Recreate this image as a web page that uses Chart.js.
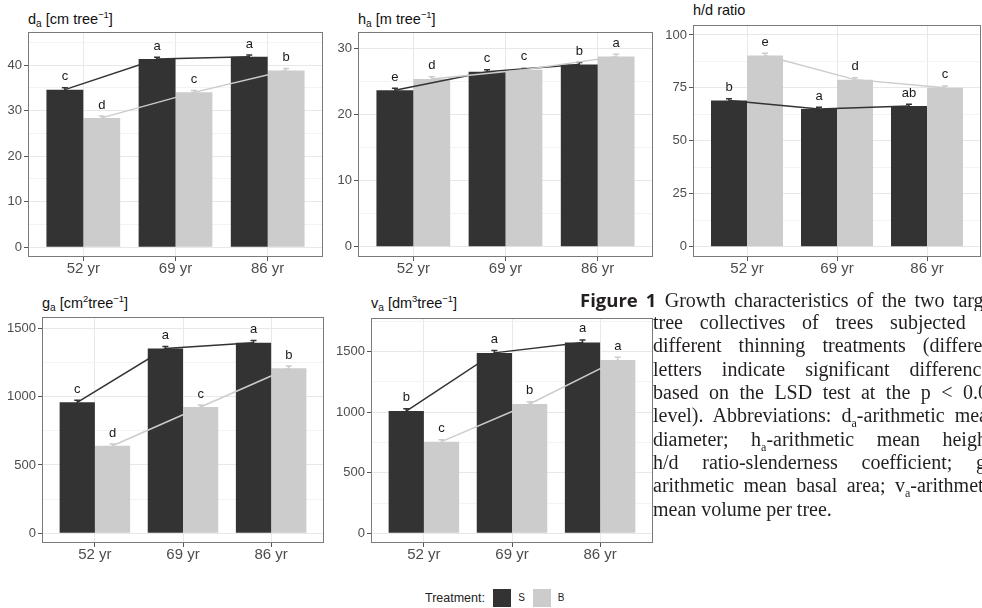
<!DOCTYPE html>
<html>
<head>
<meta charset="utf-8">
<script src="https://cdn.jsdelivr.net/npm/chart.js@4.4.0/dist/chart.umd.min.js"></script>
<style>
  html, body { margin:0; padding:0; }
  body { width:982px; height:608px; overflow:hidden; background:#fff; position:relative;
         font-family:"Liberation Sans", Arial, sans-serif; }
  .pan { position:absolute; }
  .pan canvas { display:block; }
  .ttl { position:absolute; font-size:14.5px; line-height:14.5px; color:#111; white-space:nowrap; }
  .ttl .sb { font-size:70%; vertical-align:-0.25em; line-height:0; }
  .ttl .sp { font-size:65%; vertical-align:0.6em; line-height:0; }
  .cl { position:absolute; left:653px; width:345px; height:23.33px; line-height:23.33px; overflow:hidden;
        font-family:"Liberation Serif","Times New Roman",serif; font-size:20px; color:#231f20;
        text-align:justify; text-align-last:justify; }
  .cl .sb { font-size:60%; vertical-align:-0.45em; line-height:0; }
  .fig { font-family:"Open Sans","Noto Sans",sans-serif; font-weight:700; font-size:18.5px; }
  .lg { position:absolute; color:#222; white-space:nowrap; }
  .key { position:absolute; width:18px; height:18px; }
</style>
</head>
<body>

<div class="ttl" style="left:28px;top:12px;">d<span class="sb">a</span> [cm tree<span class="sp">−1</span>]</div>
<div class="ttl" style="left:358px;top:12px;">h<span class="sb">a</span> [m tree<span class="sp">−1</span>]</div>
<div class="ttl" style="left:693px;top:3px;">h/d ratio</div>
<div class="ttl" style="left:42px;top:296px;">g<span class="sb">a</span> [cm<span class="sp">2</span>tree<span class="sp">−1</span>]</div>
<div class="ttl" style="left:371px;top:296px;">v<span class="sb">a</span> [dm<span class="sp">3</span>tree<span class="sp">−1</span>]</div>

<div class="pan" id="p1"><canvas id="c1"></canvas></div>
<div class="pan" id="p2"><canvas id="c2"></canvas></div>
<div class="pan" id="p3"><canvas id="c3"></canvas></div>
<div class="pan" id="p4"><canvas id="c4"></canvas></div>
<div class="pan" id="p5"><canvas id="c5"></canvas></div>

<div class="cl" style="left:580px;width:418px;top:287.6px;"><span class="fig">Figure 1</span> Growth characteristics of the two target</div>
<div class="cl" style="top:310.9px;">tree collectives of trees subjected to</div>
<div class="cl" style="top:334.2px;">different thinning treatments (different</div>
<div class="cl" style="top:357.6px;">letters indicate significant differences</div>
<div class="cl" style="top:380.9px;">based on the LSD test at the p &lt; 0.05</div>
<div class="cl" style="top:404.2px;">level). Abbreviations: d<span class="sb">a</span>-arithmetic mean</div>
<div class="cl" style="top:427.5px;">diameter; h<span class="sb">a</span>-arithmetic mean height;</div>
<div class="cl" style="top:450.9px;">h/d ratio-slenderness coefficient; g<span class="sb">a</span>-</div>
<div class="cl" style="top:474.2px;">arithmetic mean basal area; v<span class="sb">a</span>-arithmetic</div>
<div class="cl" style="top:498.3px;text-align:left;text-align-last:left;">mean volume per tree.</div>

<div class="lg" style="left:425px;top:590px;font-size:12.5px;line-height:16px;">Treatment:</div>
<div class="key" style="left:493px;top:589px;background:#333333;"></div>
<div class="lg" style="left:517px;top:591px;font-size:10px;line-height:14px;width:9px;text-align:center;">S</div>
<div class="key" style="left:532.5px;top:589px;background:#cccccc;"></div>
<div class="lg" style="left:556px;top:591px;font-size:10px;line-height:14px;width:10px;text-align:center;">B</div>

<script>
// ---------------- data ----------------
const ages = ['52 yr', '69 yr', '86 yr'];
const treatments = ['S', 'B'];

// d_a [cm tree-1]
const daS    = [34.6, 41.3, 41.8];
const daB    = [28.4, 34.0, 38.8];
const daSeS  = [0.4, 0.4, 0.4];
const daSeB  = [0.4, 0.4, 0.45];
const daLetS = ['c', 'a', 'a'];
const daLetB = ['d', 'c', 'b'];
const daTicks = [0, 10, 20, 30, 40];

// h_a [m tree-1]
const haS    = [23.7, 26.5, 27.6];
const haB    = [25.4, 26.8, 28.8];
const haSeS  = [0.3, 0.3, 0.3];
const haSeB  = [0.35, 0.3, 0.35];
const haLetS = ['e', 'c', 'b'];
const haLetB = ['d', 'c', 'a'];
const haTicks = [0, 10, 20, 30];

// h/d ratio
const hdS    = [69.0, 65.0, 66.5];
const hdB    = [90.3, 78.9, 75.1];
const hdSeS  = [0.9, 0.8, 0.8];
const hdSeB  = [1.0, 0.9, 0.8];
const hdLetS = ['b', 'a', 'ab'];
const hdLetB = ['e', 'd', 'c'];
const hdTicks = [0, 25, 50, 75, 100];

// g_a [cm2 tree-1]
const gaS    = [958, 1352, 1394];
const gaB    = [641, 924, 1208];
const gaSeS  = [15, 15, 16];
const gaSeB  = [12, 14, 16];
const gaLetS = ['c', 'a', 'a'];
const gaLetB = ['d', 'c', 'b'];
const gaTicks = [0, 500, 1000, 1500];

// v_a [dm3 tree-1]
const vaS    = [1010, 1490, 1575];
const vaB    = [757, 1068, 1432];
const vaSeS  = [18, 20, 22];
const vaSeB  = [15, 18, 22];
const vaLetS = ['b', 'a', 'a'];
const vaLetB = ['c', 'b', 'a'];
const vaTicks = [0, 500, 1000, 1500];

// ---------------- layout / style ----------------
const COL_S = '#333333', COL_B = '#cccccc';
Chart.defaults.font.family = '"Liberation Sans", Arial, sans-serif';

const panels = [
  {id:'1', cl:0,   L:28,  R:323, T:32,  B:257, yMin:-2.13, yMax:47.25, ticks:daTicks, s:daS, b:daB, seS:daSeS, seB:daSeB, letS:daLetS, letB:daLetB},
  {id:'2', cl:326, L:358, R:653, T:32,  B:257, yMin:-1.56, yMax:32.53, ticks:haTicks, s:haS, b:haB, seS:haSeS, seB:haSeB, letS:haLetS, letB:haLetB},
  {id:'3', cl:656, L:693, R:981, T:25,  B:257, yMin:-4.87, yMax:104.7, ticks:hdTicks, s:hdS, b:hdB, seS:hdSeS, seB:hdSeB, letS:hdLetS, letB:hdLetB},
  {id:'4', cl:0,   L:42,  R:324, T:317, B:543, yMin:-71,   yMax:1582.6, ticks:gaTicks, s:gaS, b:gaB, seS:gaSeS, seB:gaSeB, letS:gaLetS, letB:gaLetB},
  {id:'5', cl:330, L:371, R:653, T:318, B:543, yMin:-80,   yMax:1778,  ticks:vaTicks, s:vaS, b:vaB, seS:vaSeS, seB:vaSeB, letS:vaLetS, letB:vaLetB}
];

const PAD_TOP = 12, X_H = 26;

const deco = {
  id: 'deco',
  afterDatasetsDraw(chart, args, o) {
    const ctx = chart.ctx, ys = chart.scales.y, ca = chart.chartArea;
    const vals = [o.s, o.b], ses = [o.seS, o.seB], lets = [o.letS, o.letB], cols = [COL_S, COL_B];
    ctx.save();
    // error bars
    for (let d = 0; d < 2; d++) {
      const meta = chart.getDatasetMeta(d);
      ctx.strokeStyle = cols[d];
      ctx.lineWidth = 1.5;
      meta.data.forEach((el, i) => {
        const v = vals[d][i], se = ses[d][i];
        const yt = ys.getPixelForValue(v + se), yb = ys.getPixelForValue(v - se);
        ctx.beginPath();
        ctx.moveTo(el.x, yb); ctx.lineTo(el.x, yt);
        ctx.moveTo(el.x - 3, yt); ctx.lineTo(el.x + 3, yt);
        ctx.moveTo(el.x - 3, yb); ctx.lineTo(el.x + 3, yb);
        ctx.stroke();
      });
    }
    // connecting lines
    for (let d = 0; d < 2; d++) {
      const meta = chart.getDatasetMeta(d);
      ctx.strokeStyle = cols[d];
      ctx.lineWidth = 1.5;
      ctx.beginPath();
      meta.data.forEach((el, i) => {
        const py = ys.getPixelForValue(vals[d][i]);
        if (i === 0) ctx.moveTo(el.x, py); else ctx.lineTo(el.x, py);
      });
      ctx.stroke();
    }
    // significance letters
    ctx.fillStyle = '#1a1a1a';
    ctx.font = '13px "Liberation Sans", Arial, sans-serif';
    ctx.textAlign = 'center';
    ctx.textBaseline = 'alphabetic';
    for (let d = 0; d < 2; d++) {
      const meta = chart.getDatasetMeta(d);
      meta.data.forEach((el, i) => {
        const yt = ys.getPixelForValue(vals[d][i] + ses[d][i]);
        ctx.fillText(lets[d][i], el.x, yt - 7.5);
      });
    }
    // panel border
    ctx.strokeStyle = '#7a7a7a';
    ctx.lineWidth = 1;
    ctx.strokeRect(Math.round(ca.left) + 0.5, Math.round(ca.top) + 0.5,
                   Math.round(ca.right - ca.left) - 1, Math.round(ca.bottom - ca.top) - 1);
    ctx.restore();
  }
};

panels.forEach(p => {
  const div = document.getElementById('p' + p.id);
  const cv = document.getElementById('c' + p.id);
  const top = p.T - PAD_TOP;
  const w = p.R + 1 - p.cl;
  const h = p.B + X_H - top;
  div.style.left = p.cl + 'px';
  div.style.top = top + 'px';
  div.style.width = w + 'px';
  div.style.height = h + 'px';
  cv.width = w; cv.height = h;
  cv.style.width = w + 'px'; cv.style.height = h + 'px';
  const yW = p.L - p.cl;
  const step = p.ticks[1] - p.ticks[0];
  const allTicks = [];
  for (let v = p.ticks[0]; v <= p.yMax; v += step / 2) allTicks.push(v);
  const isMajor = v => p.ticks.includes(v);

  new Chart(cv, {
    type: 'bar',
    data: {
      datasets: [
        { label: treatments[0], data: p.s.map((v, i) => ({x: i, y: v})), backgroundColor: COL_S, borderWidth: 0 },
        { label: treatments[1], data: p.b.map((v, i) => ({x: i, y: v})), backgroundColor: COL_B, borderWidth: 0 }
      ]
    },
    options: {
      responsive: false,
      animation: false,
      devicePixelRatio: 1,
      layout: { padding: { top: PAD_TOP, right: 1, left: 0, bottom: 0 } },
      datasets: { bar: { categoryPercentage: 0.8, barPercentage: 1.0 } },
      plugins: {
        legend: { display: false },
        tooltip: { enabled: false },
        deco: { s: p.s, b: p.b, seS: p.seS, seB: p.seB, letS: p.letS, letB: p.letB }
      },
      scales: {
        x: {
          type: 'linear', min: -0.6, max: 2.6, offset: false,
          afterBuildTicks: s => { s.ticks = ages.map((_, i) => ({ value: i })); },
          afterFit: s => { s.height = X_H; },
          ticks: { callback: v => ages[v], font: { size: 15 }, color: '#4d4d4d', padding: -1.5,
                   maxRotation: 0, autoSkip: false },
          grid: { offset: false, color: '#e8e8e8', lineWidth: 1, tickLength: 4, tickColor: '#555', drawTicks: true },
          border: { display: false }
        },
        y: {
          min: p.yMin, max: p.yMax,
          afterBuildTicks: s => { s.ticks = allTicks.map(v => ({ value: v })); },
          afterFit: s => { s.width = yW; },
          ticks: { callback: v => isMajor(v) ? String(v) : '', font: { size: 13 }, color: '#4d4d4d',
                   padding: 2, autoSkip: false },
          grid: {
            color: c => isMajor(c.tick.value) ? '#e8e8e8' : '#f3f3f3',
            lineWidth: 1, tickLength: 4,
            tickColor: c => isMajor(c.tick.value) ? '#555' : 'rgba(0,0,0,0)'
          },
          border: { display: false }
        }
      }
    },
    plugins: [deco]
  });
});
</script>
</body>
</html>
